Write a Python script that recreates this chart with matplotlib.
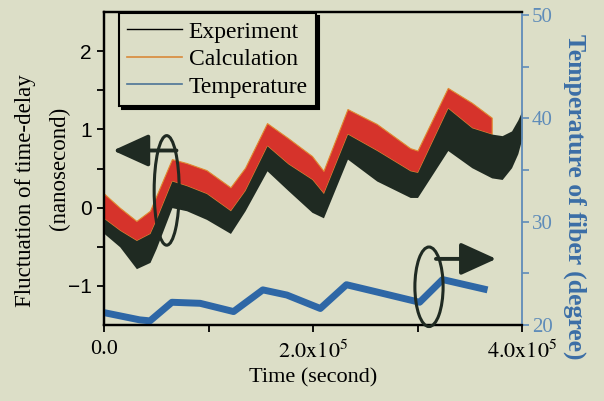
import matplotlib
matplotlib.use("Agg")
import matplotlib.pyplot as plt
from matplotlib.patches import Ellipse
from matplotlib.lines import Line2D
import numpy as np

plt.rcParams['mathtext.fontset'] = 'stix'

# ---- data ----
# time in units of 1e5 s
calc_t = [0.0, 0.15, 0.31, 0.44, 0.50, 0.65, 0.79, 0.98, 1.21, 1.35, 1.56, 1.76,
          1.99, 2.10, 2.33, 2.61, 2.93, 3.00, 3.29, 3.52, 3.71]
calc_top = [0.18, 0.00, -0.17, -0.04, 0.15, 0.62, 0.57, 0.48, 0.26, 0.51, 1.08, 0.89,
            0.66, 0.47, 1.26, 1.07, 0.76, 0.73, 1.53, 1.34, 1.15]
calc_bot = [-0.14, -0.29, -0.42, -0.33, -0.15, 0.34, 0.28, 0.18, -0.04, 0.22, 0.79, 0.56,
            0.36, 0.18, 0.94, 0.73, 0.47, 0.45, 1.27, 1.02, 0.94]

exp_t = [0.0, 0.15, 0.31, 0.44, 0.50, 0.65, 0.79, 0.98, 1.21, 1.35, 1.56, 1.76,
         1.99, 2.10, 2.33, 2.61, 2.93, 3.00, 3.29, 3.52, 3.71, 3.81, 3.90, 3.96, 4.00]
exp_top = [-0.14, -0.29, -0.42, -0.33, -0.15, 0.34, 0.28, 0.18, -0.04, 0.22, 0.79, 0.56,
           0.36, 0.18, 0.94, 0.73, 0.47, 0.45, 1.27, 1.02, 0.94, 0.92, 0.98, 1.12, 1.24]
exp_bot = [-0.33, -0.50, -0.78, -0.70, -0.52, 0.00, -0.04, -0.15, -0.33, -0.04, 0.47, 0.22,
           -0.06, -0.13, 0.62, 0.34, 0.13, 0.13, 0.73, 0.51, 0.38, 0.36, 0.51, 0.69, 0.89]

temp_t = [0.0, 0.34, 0.44, 0.65, 0.92, 1.24, 1.52, 1.75, 2.07, 2.32, 2.61, 3.02, 3.24, 3.67]
temp_v = [21.2, 20.5, 20.4, 22.2, 22.1, 21.3, 23.4, 22.9, 21.6, 23.9, 23.2, 22.2, 24.4, 23.4]

x_ticks = [0, 2e5, 4e5]
x_ticklabels = ['0.0', r'$\mathrm{2.0x10^5}$', r'$\mathrm{4.0x10^5}$']
y_ticks = [-1, 0, 1, 2]
y_ticklabels = ['\u22121', '0', '1', '2']
t_ticks = [20, 30, 40, 50]
t_ticklabels = ['20', '30', '40', '50']

# ---- styling ----
BG = '#dcdec7'
RED = '#d6332b'
BLK = '#1f2a22'
BLUE = '#2e67a6'
AXBLUE = '#5f8cb9'
LBLUE = '#3b6ea6'
SERIF = 'Liberation Serif'
SANS = 'Liberation Sans'

fig = plt.figure(figsize=(6.04, 4.01), dpi=100, facecolor=BG)
ax = fig.add_axes([104/604, 1-325/401, 418/604, 313/401])
ax.set_facecolor(BG)
ax2 = ax.twinx()

sc = 1e5
ct = np.array(calc_t) * sc
et = np.array(exp_t) * sc
tt = np.array(temp_t) * sc

ax.fill_between(ct, calc_bot, calc_top, color=RED, lw=0.8, edgecolor='#e08a30', zorder=2)
ax.fill_between(et, exp_bot, exp_top, color=BLK, lw=0, zorder=3)

ax2.plot(tt, temp_v, color=BLUE, lw=5, solid_capstyle='butt')

ax.set_xlim(0, 4e5)
ax.set_ylim(-1.5, 2.5)
ax2.set_ylim(20, 50.3)

ax.set_xticks(x_ticks)
ax.set_xticklabels(x_ticklabels, fontfamily=SERIF, fontsize=16)
ax.set_xticks([1e5, 3e5], minor=True)
ax.set_yticks(y_ticks)
ax.set_yticklabels(y_ticklabels, fontfamily=SANS, fontsize=15)
ax.set_yticks([-0.5, 0.5, 1.5], minor=True)
ax.tick_params(axis='both', which='both', direction='out', length=5, width=1.3, colors='black')
ax.tick_params(axis='y', pad=4)
ax.tick_params(axis='x', pad=6)

ax2.set_yticks(t_ticks)
ax2.set_yticklabels(t_ticklabels, fontfamily=SERIF, fontsize=15, color=AXBLUE)
ax2.set_yticks([25, 35, 45], minor=True)
ax2.tick_params(axis='y', which='both', direction='out', length=5, width=1.2, colors=AXBLUE, pad=2)

for s in ['left', 'bottom', 'top']:
    ax.spines[s].set_linewidth(1.6)
    ax.spines[s].set_color('black')
    ax2.spines[s].set_linewidth(1.6)
    ax2.spines[s].set_color('black')
ax2.spines['right'].set_color(AXBLUE)
ax2.spines['right'].set_linewidth(1.3)
ax.spines['right'].set_visible(False)

# labels
ax.set_xlabel('Time (second)', fontfamily=SERIF, fontsize=16, labelpad=4)
fig.text(26/604, 1-191/401, 'Fluctuation of time-delay', rotation=90, ha='center', va='center',
         fontfamily=SERIF, fontsize=16.5)
fig.text(59/604, 1-168/401, '(nanosecond)', rotation=90, ha='center', va='center',
         fontfamily=SERIF, fontsize=16.5)
fig.text(575/604, 1-197/401, 'Temperature of fiber (degree)', rotation=270, ha='center', va='center',
         fontfamily=SERIF, fontsize=18.5, fontweight='bold', color=LBLUE)

# legend
handles = [Line2D([], [], color='black', lw=1.0),
           Line2D([], [], color='#d9893a', lw=1.2),
           Line2D([], [], color='#4d7496', lw=1.2)]
leg = ax2.legend(handles, ['Experiment', 'Calculation', 'Temperature'],
                 loc='upper left', bbox_to_anchor=(0.036, 0.997), borderaxespad=0,
                 prop={'family': SERIF, 'size': 17}, frameon=True, fancybox=False,
                 edgecolor='black', facecolor=BG, framealpha=1, shadow={'color': 'black', 'alpha': 1},
                 handlelength=2.3, handletextpad=0.3, labelspacing=0.25, borderpad=0.35)
leg.get_frame().set_linewidth(1.5)

# annotations: ellipses and arrows
e1 = Ellipse((0.60e5, 0.22), 0.24e5, 1.40, fill=False, edgecolor=BLK, lw=2.2, zorder=5)
ax.add_patch(e1)
ax.annotate('', xy=(0.06e5, 0.73), xytext=(0.72e5, 0.73),
            arrowprops=dict(arrowstyle='-|>,head_length=2.2,head_width=1.0', color=BLK, lw=2.8),
            zorder=6)
e2 = Ellipse((3.11e5, 23.7), 0.27e5, 7.7, fill=False, edgecolor=BLK, lw=2.2, zorder=5,
             clip_on=False)
ax2.add_patch(e2)
ax2.annotate('', xy=(3.78e5, 26.4), xytext=(3.15e5, 26.4),
             arrowprops=dict(arrowstyle='-|>,head_length=2.2,head_width=1.0', color=BLK, lw=2.8),
             zorder=6)

fig.savefig('out.png', dpi=100, facecolor=BG)
